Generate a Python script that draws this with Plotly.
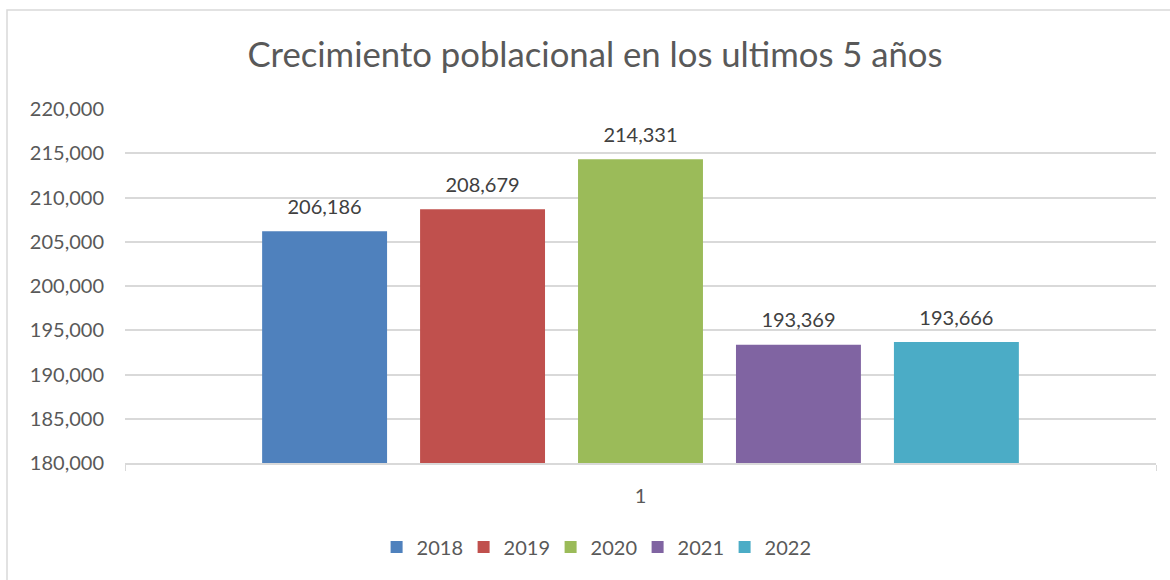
import plotly.graph_objects as go

categories = ["1"]
years = ["2018", "2019", "2020", "2021", "2022"]
values = [206186, 208679, 214331, 193369, 193666]
colors = ["#4F81BD", "#C0504D", "#9BBB59", "#8064A2", "#4BACC6"]

FONT = "Lato"
fig = go.Figure()
for yr, v, c in zip(years, values, colors):
    fig.add_trace(go.Bar(
        x=categories, y=[v], name=yr, offsetgroup=yr,
        marker=dict(color=c, line=dict(width=0)),
    ))
for yr, v in zip(years, values):
    fig.add_trace(go.Scatter(
        x=categories, y=[v], mode="markers+text", offsetgroup=yr, showlegend=False,
        marker=dict(size=18, opacity=0), text=[f"{v:,}"], textposition="top center",
        textfont=dict(family=FONT, size=20, color="#404040"), cliponaxis=False,
        hoverinfo="skip",
    ))

fig.update_layout(
    width=1170, height=580,
    margin=dict(l=125, r=14, t=109, b=117),
    paper_bgcolor="white", plot_bgcolor="white",
    barmode="group", scattermode="group", bargap=0.234, bargroupgap=0.209,
    title=dict(text="Crecimiento poblacional en los ultimos 5 años",
               x=595/1170, xref="container", xanchor="center",
               y=1 - 55/580, yref="container", yanchor="middle",
               font=dict(family=FONT, size=34.7, color="#595959")),
    showlegend=True,
    legend=dict(orientation="h", x=0.455, xanchor="center", xref="paper",
                y=-(547-463)/354, yanchor="middle", entrywidth=42,
                font=dict(family=FONT, size=20, color="#595959"),
                itemclick=False, itemdoubleclick=False),
    font=dict(family=FONT, color="#595959"),
)
fig.update_xaxes(
    type="category", showgrid=False, showline=True, linecolor="#D9D9D9", linewidth=1.5,
    ticks="outside", tickson="boundaries", ticklen=6, tickcolor="#D9D9D9",
    tickfont=dict(family=FONT, size=20, color="#595959"), ticklabelstandoff=14,
)
fig.update_yaxes(
    range=[180000, 220000], dtick=5000, tick0=180000, tickformat=",",
    showgrid=True, gridcolor="#D9D9D9", gridwidth=1.5, zeroline=False, showline=False,
    ticks="", ticklabelstandoff=20,
    tickfont=dict(family=FONT, size=20, color="#595959"),
)
fig.add_shape(type="rect", xref="paper", yref="paper",
              x0=(7-125)/1031, x1=1.2, y0=-1.0, y1=1 + (109-10)/354,
              line=dict(color="#D9D9D9", width=1.5), fillcolor="rgba(0,0,0,0)", layer="below")

fig.write_html("out.html")
